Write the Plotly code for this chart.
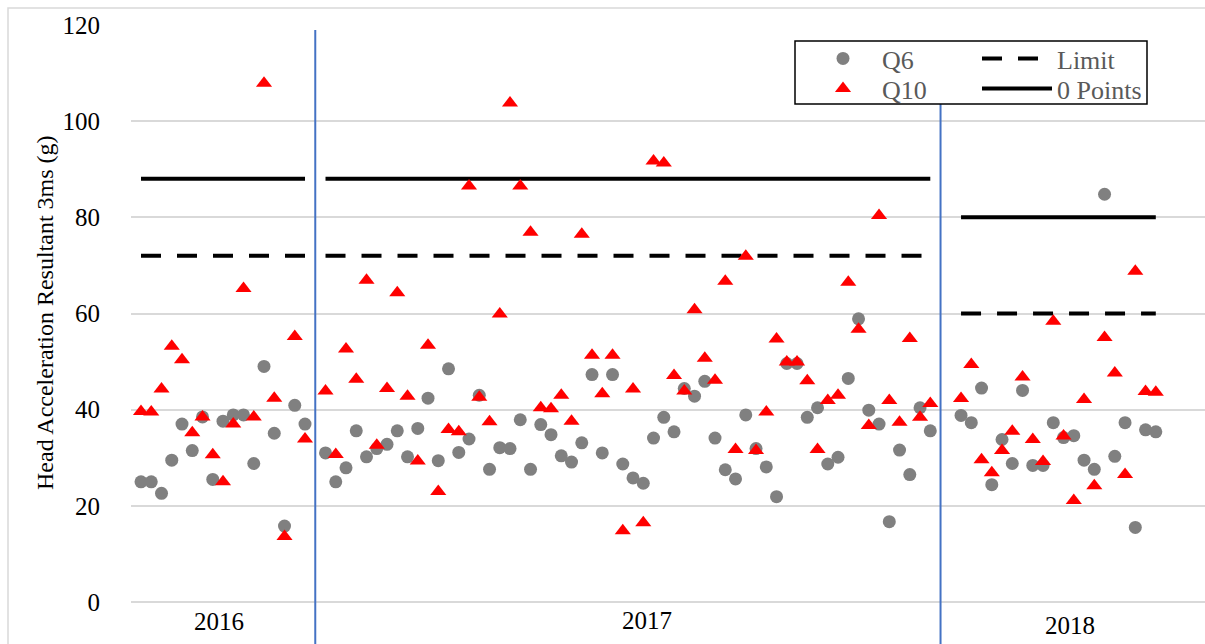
import plotly.graph_objects as go

# ---------------- data ----------------
years = ["2016", "2017", "2018"]

q6_2016 = [25.0, 25.0, 22.6, 29.5, 37.0, 31.5, 38.5, 25.5, 37.6, 38.9, 38.9, 28.8, 49.0, 35.1, 15.8, 40.9, 37.0]
q10_2016 = [39.6, 39.5, 44.3, 53.2, 50.4, 35.2, 38.5, 30.6, 25.0, 37.0, 65.2, 38.5, 107.9, 42.4, 13.6, 55.2, 33.9]

q6_2017 = [31.0, 25.0, 27.9, 35.6, 30.2, 31.9, 32.8, 35.6, 30.2, 36.1, 42.4, 29.4, 48.5, 31.1, 33.9, 43.0, 27.6, 32.1, 31.9, 37.9,
           27.6, 36.9, 34.8, 30.4, 29.1, 33.1, 47.3, 31.0, 47.3, 28.7, 25.8, 24.7, 34.1, 38.4, 35.4, 44.4, 42.8, 45.9, 34.1, 27.5, 25.6,
           38.9, 31.9, 28.1, 21.9, 49.6, 49.6, 38.4, 40.4, 28.7, 30.1, 46.5, 58.9, 39.9, 37.0, 16.7, 31.6, 26.5, 40.4, 35.6]
q10_2017 = [43.9, 30.7, 52.6, 46.3, 66.9, 32.6, 44.4, 64.3, 42.8, 29.3, 53.4, 23.0, 35.9, 35.4, 86.5, 42.6, 37.5, 59.9, 103.8, 86.5,
            76.9, 40.4, 40.2, 43.0, 37.6, 76.5, 51.3, 43.3, 51.3, 14.8, 44.3, 16.5, 91.7, 91.3, 47.1, 43.9, 60.8, 50.7, 46.1, 66.7, 31.7,
            71.9, 31.5, 39.5, 54.7, 49.9, 49.9, 46.0, 31.7, 41.9, 43.0, 66.5, 56.7, 36.7, 80.4, 41.9, 37.4, 54.8, 38.4, 41.3]

q6_2018 = [38.8, 37.3, 44.5, 24.4, 33.8, 28.8, 44.0, 28.4, 28.4, 37.3, 34.2, 34.6, 29.5, 27.6, 84.8, 30.3, 37.3, 15.5, 35.8, 35.4]
q10_2018 = [42.3, 49.4, 29.6, 26.9, 31.5, 35.5, 46.8, 33.8, 29.2, 58.4, 34.5, 21.1, 42.1, 24.2, 55.0, 47.6, 26.5, 68.8, 43.8, 43.6]

limit_by_year = [72, 72, 60]
zero_points_by_year = [88, 88, 80]
gaps_after_year = [1, 2, 0]   # empty categories between the year blocks

# ---------------- build category positions ----------------
q6_blocks = [q6_2016, q6_2017, q6_2018]
q10_blocks = [q10_2016, q10_2017, q10_2018]

x_all, q6_all, q10_all, lim_all, zp_all = [], [], [], [], []
sep_positions = []
idx = 0
for b in range(3):
    for k in range(len(q6_blocks[b])):
        x_all.append(idx)
        q6_all.append(q6_blocks[b][k])
        q10_all.append(q10_blocks[b][k])
        lim_all.append(limit_by_year[b])
        zp_all.append(zero_points_by_year[b])
        idx += 1
    if gaps_after_year[b]:
        sep_positions.append(idx)
    for g in range(gaps_after_year[b]):
        x_all.append(idx)
        q6_all.append(None)
        q10_all.append(None)
        lim_all.append(None)
        zp_all.append(None)
        idx += 1

XMIN, XMAX = -0.976, 103.8
def xpaper(v):
    return (v - XMIN) / (XMAX - XMIN)

SERIF = "Times New Roman, Liberation Serif, serif"

fig = go.Figure()

fig.add_trace(go.Scatter(x=x_all, y=lim_all, mode="lines", name="Limit",
                         line=dict(color="black", width=4, dash="20px,16px"),
                         connectgaps=False, legend="legend3"))
fig.add_trace(go.Scatter(x=x_all, y=zp_all, mode="lines", name="0 Points",
                         line=dict(color="black", width=4),
                         connectgaps=False, legend="legend4"))
fig.add_trace(go.Scatter(x=x_all, y=q6_all, mode="markers", name="Q6",
                         marker=dict(symbol="circle", size=13, color="#808080"),
                         legend="legend"))
fig.add_trace(go.Scatter(x=x_all, y=q10_all, mode="markers", name="Q10",
                         marker=dict(symbol="triangle-up", size=14, color="#FF0000"),
                         legend="legend2"))

W, H = 1205, 644
ML, MR, MT, MB = 131, 0, 25, 42
PW, PH = W - ML - MR, H - MT - MB
def px_x(p):
    return (p - ML) / PW
def px_y(p):
    return (H - MB - p) / PH

shapes = []
# chart border
shapes.append(dict(type="rect", xref="paper", yref="paper",
                   x0=px_x(8), x1=px_x(1215), y0=px_y(660), y1=px_y(8),
                   line=dict(color="#d9d9d9", width=1.5), fillcolor="rgba(0,0,0,0)", layer="below"))
# year separators
sep_tops = [30, 103]
for s, top in zip(sep_positions, sep_tops):
    shapes.append(dict(type="line", xref="paper", yref="paper",
                       x0=xpaper(s), x1=xpaper(s), y0=px_y(660), y1=px_y(top),
                       line=dict(color="#4472C4", width=2)))
# legend box
shapes.append(dict(type="rect", xref="paper", yref="paper",
                   x0=px_x(795), x1=px_x(1147), y0=px_y(104), y1=px_y(41),
                   line=dict(color="black", width=1.5), fillcolor="white", layer="above"))

annotations = []
label_px = [(219, 621), (647, 620), (1070, 625)]
for yr, (lx, ly) in zip(years, label_px):
    annotations.append(dict(text=yr, xref="paper", yref="paper", x=px_x(lx), y=px_y(ly),
                            showarrow=False, xanchor="center", yanchor="middle",
                            font=dict(family=SERIF, size=25, color="black")))
annotations.append(dict(text="Head Acceleration Resultant 3ms (g)", xref="paper", yref="paper",
                        x=px_x(45), y=px_y(313), textangle=-90, showarrow=False,
                        xanchor="center", yanchor="middle",
                        font=dict(family=SERIF, size=24, color="black")))

LEG_FONT = dict(family=SERIF, size=26, color="#595959")
def leg(xpx, ytop, iw):
    return dict(x=px_x(xpx), y=px_y(ytop), xanchor="left", yanchor="top",
                bgcolor="rgba(0,0,0,0)", borderwidth=0, itemwidth=iw, font=LEG_FONT)

fig.update_layout(
    width=W, height=H,
    margin=dict(l=ML, r=MR, t=MT, b=MB),
    paper_bgcolor="white", plot_bgcolor="white",
    xaxis=dict(range=[XMIN, XMAX], showgrid=False, zeroline=False, showline=False,
               showticklabels=False, ticks=""),
    yaxis=dict(range=[0, 120], dtick=20, tick0=0, showgrid=True, gridcolor="#d9d9d9", gridwidth=1.5,
               zeroline=True, zerolinecolor="#d9d9d9", zerolinewidth=1.5, showline=False, ticks="",
               tickfont=dict(family=SERIF, size=25, color="black"), ticklabelstandoff=30),
    shapes=shapes,
    annotations=annotations,
    legend=leg(804, 59 - 24, 68),
    legend2=leg(804, 89 - 24, 68),
    legend3=leg(977, 59 - 24, 70),
    legend4=leg(977, 89 - 24, 70),
    showlegend=True,
)

fig.write_html("out.html",
               config={"displayModeBar": False},
               post_script="document.body.style.margin='0';document.body.style.overflow='hidden';")
